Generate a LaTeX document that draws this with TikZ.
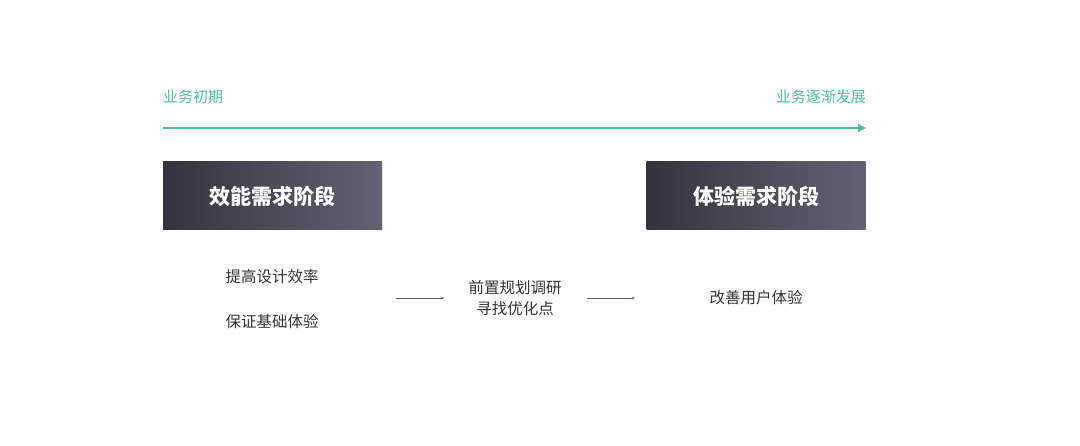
\documentclass[tikz,border=0pt]{standalone}
\usepackage{fontspec}
\setmainfont{Noto Sans CJK SC}
\usetikzlibrary{arrows.meta}
\definecolor{teal1}{HTML}{4DBF9F}
\definecolor{boxl}{HTML}{33333F}
\definecolor{boxr}{HTML}{626274}
\definecolor{txt}{HTML}{333333}
\tikzset{
  stagebox/.style={minimum width=219pt,minimum height=68pt,left color=boxl,right color=boxr,draw=none,text=white,font=\fontsize{21}{24}\selectfont\bfseries},
  phase/.style={text=teal1,font=\fontsize{15}{18}\selectfont},
  body/.style={text=txt,font=\fontsize{15.5}{19}\selectfont,align=center},
  small arrow/.style={draw=gray!70!black,line width=0.5pt,-{Stealth[length=3pt,width=2.5pt]}}
}
\begin{document}
\begin{tikzpicture}[x=1pt,y=-1pt]
\useasboundingbox (0,0) rectangle (1080,446);
\node[phase,anchor=west,inner sep=0] (p1) at (163,97) {业务初期};
\node[phase,anchor=east,inner sep=0] (p2) at (866,97) {业务逐渐发展};
\coordinate (a1) at (163,128);
\coordinate (a2) at (866,128);
\draw[teal1,line width=1.3pt,-{Triangle[length=8pt,width=8pt]}] (a1) -- (a2);
\node[stagebox] (b1) at (272.5,196) {效能需求阶段};
\node[stagebox] (b2) at (756,196) {体验需求阶段};
\node[body] (t1) at (272,277) {提高设计效率};
\node[body] (t2) at (272,322) {保证基础体验};
\node[body] (m) at (515,298.5) {前置规划调研\\[2pt]寻找优化点};
\node[body] (r) at (756,298) {改善用户体验};
\coordinate (s1) at (396,298);
\coordinate (e1) at (444,298);
\coordinate (s2) at (587,298);
\coordinate (e2) at (635,298);
\draw[small arrow] (s1) -- (e1);
\draw[small arrow] (s2) -- (e2);
\end{tikzpicture}
\end{document}
